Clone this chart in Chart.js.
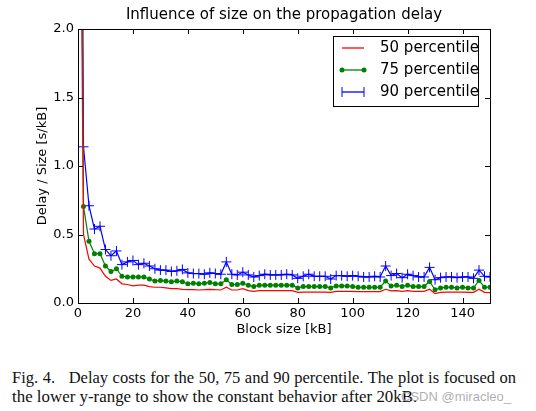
<!DOCTYPE html>
<html>
<head>
<meta charset="utf-8">
<script src="https://cdn.jsdelivr.net/npm/chart.js@4/dist/chart.umd.min.js"></script>
<style>
  body { margin: 0; background: #fff; width: 536px; height: 411px; position: relative; overflow: hidden; }
  #wrap { position: absolute; left: 0; top: 0; width: 536px; height: 345px; }
  .cap { position: absolute; left: 12px; font-family: "Liberation Serif", "Times New Roman", serif; color: #111; white-space: nowrap; }
  #cap1 { top: 368px; width: 504px; font-size: 16.5px; text-align: justify; text-align-last: justify; }
  #cap2 { top: 387px; font-size: 16.9px; }
  #mark { position: absolute; left: 401px; top: 389px; font-family: "Liberation Sans", Arial, sans-serif; font-size: 13px; color: rgba(160,160,160,0.85); }
</style>
</head>
<body>
<div id="wrap"><canvas id="delayChart" width="536" height="345"></canvas></div>
<div class="cap" id="cap1">Fig. 4.&nbsp;&nbsp; Delay costs for the 50, 75 and 90 percentile. The plot is focused on</div>
<div class="cap" id="cap2">the lower y-range to show the constant behavior after 20kB.</div>
<div id="mark">CSDN @miracleo_</div>
<script>
// block sizes in kB
const blockSizes = [1, 2, 4, 6, 8, 10, 12, 14, 16, 18, 20, 22, 24, 26, 28, 30, 32, 34, 36, 38,
  40, 42, 44, 46, 48, 50, 52, 54, 56, 58, 60, 62, 64, 66, 68, 70, 72, 74, 76, 78,
  80, 82, 84, 86, 88, 90, 92, 94, 96, 98, 100, 102, 104, 106, 108, 110, 112, 114, 116, 118,
  120, 122, 124, 126, 128, 130, 132, 134, 136, 138, 140, 142, 144, 146, 148, 150];

const p50 = [3.0, 0.5, 0.32, 0.27, 0.255, 0.195, 0.165, 0.175, 0.14, 0.135, 0.125, 0.13, 0.13, 0.12, 0.115, 0.115, 0.11, 0.105, 0.105, 0.1,
  0.097, 0.097, 0.095, 0.097, 0.1, 0.097, 0.095, 0.115, 0.095, 0.095, 0.105, 0.09, 0.085, 0.09, 0.09, 0.09, 0.09, 0.09, 0.09, 0.09,
  0.078, 0.08, 0.08, 0.08, 0.08, 0.08, 0.078, 0.085, 0.085, 0.085, 0.085, 0.083, 0.083, 0.083, 0.083, 0.083, 0.1, 0.088, 0.09, 0.085,
  0.09, 0.085, 0.085, 0.085, 0.1, 0.068, 0.078, 0.08, 0.08, 0.08, 0.08, 0.078, 0.078, 0.1, 0.078, 0.075];

const p75 = [4.0, 0.705, 0.45, 0.36, 0.36, 0.27, 0.23, 0.25, 0.195, 0.19, 0.19, 0.19, 0.19, 0.175, 0.16, 0.165, 0.16, 0.155, 0.16, 0.155,
  0.14, 0.145, 0.14, 0.145, 0.15, 0.14, 0.14, 0.17, 0.135, 0.135, 0.145, 0.13, 0.12, 0.13, 0.13, 0.13, 0.13, 0.13, 0.13, 0.13,
  0.11, 0.12, 0.12, 0.12, 0.12, 0.12, 0.11, 0.125, 0.125, 0.125, 0.12, 0.115, 0.115, 0.115, 0.115, 0.115, 0.16, 0.125, 0.13, 0.12,
  0.13, 0.12, 0.12, 0.12, 0.157, 0.097, 0.11, 0.115, 0.115, 0.11, 0.115, 0.11, 0.11, 0.165, 0.115, 0.115];

const p90 = [5.0, 1.14, 0.71, 0.54, 0.56, 0.39, 0.345, 0.38, 0.28, 0.3, 0.31, 0.28, 0.29, 0.27, 0.25, 0.24, 0.24, 0.23, 0.235, 0.245,
  0.22, 0.215, 0.215, 0.21, 0.22, 0.215, 0.21, 0.3, 0.21, 0.205, 0.225, 0.205, 0.19, 0.2, 0.21, 0.205, 0.205, 0.205, 0.21, 0.205,
  0.18, 0.195, 0.21, 0.195, 0.195, 0.195, 0.175, 0.2, 0.2, 0.195, 0.2, 0.195, 0.19, 0.19, 0.195, 0.19, 0.27, 0.2, 0.215, 0.185,
  0.21, 0.2, 0.19, 0.19, 0.26, 0.17, 0.185, 0.19, 0.19, 0.185, 0.19, 0.19, 0.18, 0.24, 0.195, 0.19];

const xTicks = [0, 20, 40, 60, 80, 100, 120, 140];
const yTicks = [0, 0.5, 1.0, 1.5, 2.0];
const seriesNames = ['50 percentile', '75 percentile', '90 percentile'];

function toPoints(vals) {
  return blockSizes.map(function(x, i) { return { x: x, y: vals[i] }; });
}

const FONT = 'DejaVu Sans';

// title, frame, inward ticks and boxed legend, matplotlib style
const decorations = {
  id: 'decorations',
  afterDatasetsDraw: function(chart) {
    const ctx = chart.ctx;
    const a = chart.chartArea;
    const xs = chart.scales.x, ys = chart.scales.y;
    ctx.save();
    ctx.strokeStyle = '#000';
    ctx.lineWidth = 1;
    ctx.beginPath();
    xTicks.forEach(function(v) {
      const px = Math.round(xs.getPixelForValue(v)) + 0.5;
      ctx.moveTo(px, a.bottom); ctx.lineTo(px, a.bottom - 5);
      ctx.moveTo(px, a.top); ctx.lineTo(px, a.top + 5);
    });
    yTicks.forEach(function(v) {
      const py = Math.round(ys.getPixelForValue(v)) + 0.5;
      ctx.moveTo(a.left, py); ctx.lineTo(a.left + 5, py);
      ctx.moveTo(a.right, py); ctx.lineTo(a.right - 5, py);
    });
    ctx.stroke();
    ctx.strokeRect(Math.round(a.left) + 0.5, Math.round(a.top) + 0.5,
      Math.round(a.right - a.left), Math.round(a.bottom - a.top));

    // title
    ctx.fillStyle = '#000';
    ctx.font = '15px "' + FONT + '"';
    ctx.textAlign = 'center';
    ctx.textBaseline = 'middle';
    ctx.fillText('Influence of size on the propagation delay', (a.left + a.right) / 2, 15);

    // legend
    const lx = 333, ly = 36, lw = 145, lh = 70;
    ctx.fillStyle = '#fff';
    ctx.fillRect(lx, ly, lw, lh);
    ctx.strokeRect(lx + 0.5, ly + 0.5, lw, lh);
    const rows = [48, 70, 92];
    chart.data.datasets.forEach(function(ds, i) {
      const y = rows[i];
      ctx.strokeStyle = ds.borderColor;
      ctx.lineWidth = 1.3;
      ctx.beginPath();
      ctx.moveTo(342, y); ctx.lineTo(364, y);
      ctx.stroke();
      if (ds.pointStyle === 'circle') {
        ctx.fillStyle = ds.borderColor;
        [342, 364].forEach(function(px) {
          ctx.beginPath(); ctx.arc(px, y, 2.5, 0, Math.PI * 2); ctx.fill();
        });
      } else if (ds.pointStyle === 'cross') {
        ctx.lineWidth = 1;
        ctx.beginPath();
        [342, 364].forEach(function(px) {
          ctx.moveTo(px, y - 5); ctx.lineTo(px, y + 5);
        });
        ctx.stroke();
      }
      ctx.fillStyle = '#000';
      ctx.font = '15px "' + FONT + '"';
      ctx.textAlign = 'left';
      ctx.fillText(seriesNames[i], 380, y);
    });
    ctx.restore();
  }
};

new Chart(document.getElementById('delayChart'), {
  type: 'line',
  data: {
    datasets: [{
      label: seriesNames[0],
      data: toPoints(p50),
      borderColor: '#ff0000',
      borderWidth: 1.2,
      pointRadius: 0,
      pointStyle: false
    }, {
      label: seriesNames[1],
      data: toPoints(p75),
      borderColor: '#008000',
      backgroundColor: '#008000',
      borderWidth: 1.2,
      pointStyle: 'circle',
      pointRadius: 2.5,
      pointBorderWidth: 0
    }, {
      label: seriesNames[2],
      data: toPoints(p90),
      borderColor: '#0000ff',
      backgroundColor: '#0000ff',
      borderWidth: 1.2,
      pointStyle: 'cross',
      pointRadius: 5,
      pointBorderWidth: 1
    }]
  },
  options: {
    responsive: false,
    animation: false,
    layout: { padding: { top: 29, right: 46, left: 0, bottom: 0 } },
    plugins: {
      legend: { display: false },
      title: { display: false },
      tooltip: { enabled: false }
    },
    scales: {
      x: {
        type: 'linear',
        min: 0,
        max: 150,
        afterFit: function(scale) { scale.height = 42; },
        grid: { display: false, drawTicks: false },
        border: { display: false },
        ticks: {
          stepSize: 20,
          includeBounds: false,
          padding: 3,
          color: '#000',
          font: { family: FONT, size: 13 },
          maxRotation: 0
        },
        title: {
          display: true,
          text: 'Block size [kB]',
          color: '#000',
          font: { family: FONT, size: 13 },
          padding: { top: 0, bottom: 8 }
        }
      },
      y: {
        min: 0,
        max: 2.0,
        afterFit: function(scale) { scale.width = 78; },
        grid: { display: false, drawTicks: false },
        border: { display: false },
        ticks: {
          stepSize: 0.5,
          padding: 4,
          color: '#000',
          font: { family: FONT, size: 13 },
          callback: function(value) { return value.toFixed(1); }
        },
        title: {
          display: true,
          text: 'Delay / Size [s/kB]',
          color: '#000',
          font: { family: FONT, size: 13 },
          padding: { top: 35, bottom: 0 }
        }
      }
    }
  },
  plugins: [decorations]
});
</script>
</body>
</html>
